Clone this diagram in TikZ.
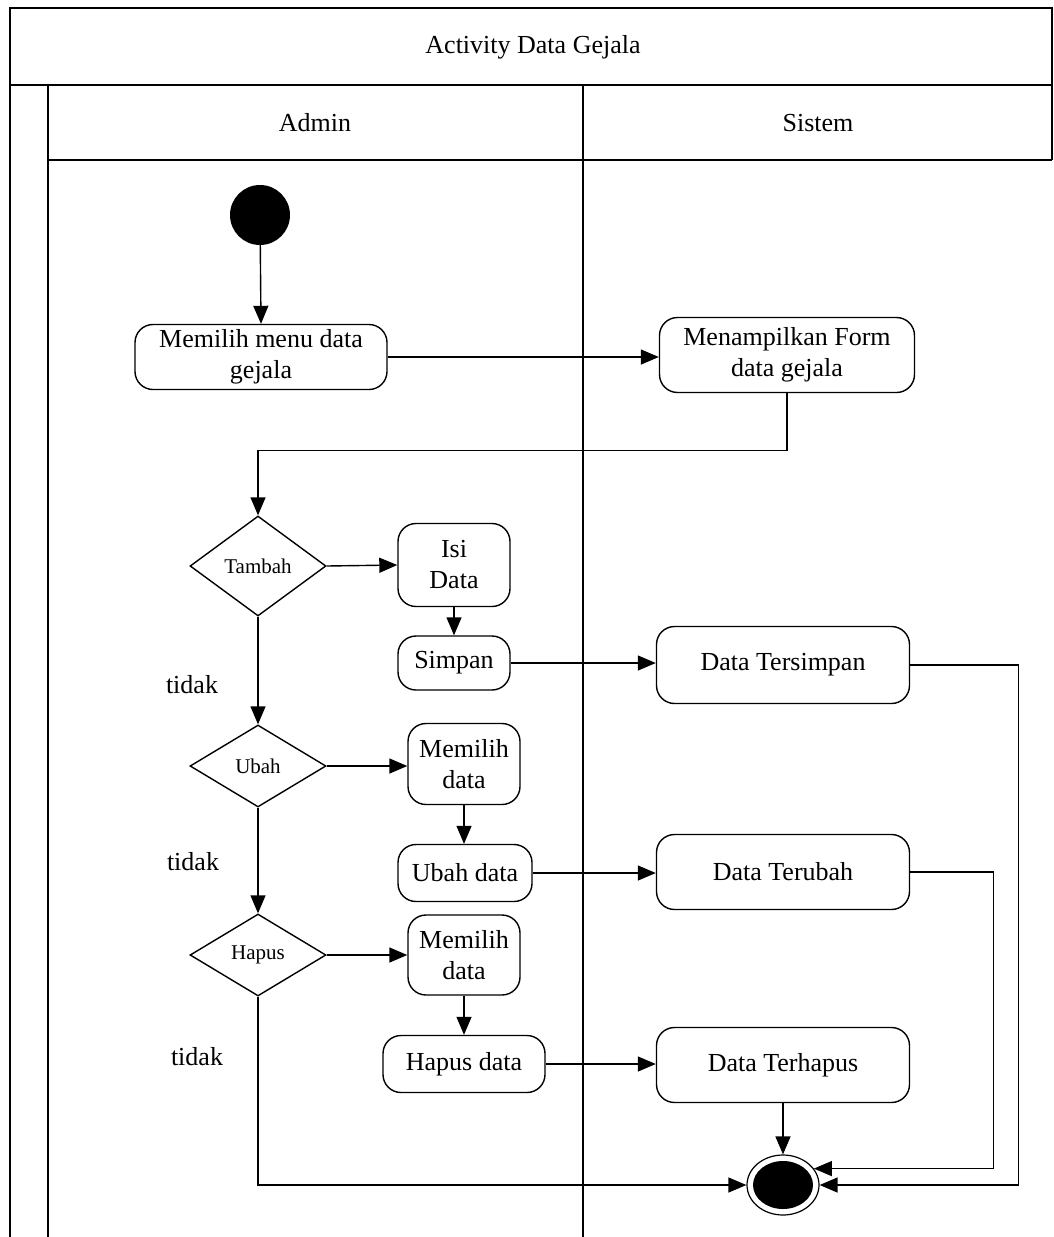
\documentclass[tikz,border=0pt]{standalone}
\usepackage{fontspec}
\setmainfont{Liberation Serif}
\usetikzlibrary{arrows.meta,shapes.geometric}
\tikzset{
  frame/.style={line width=1.6pt},
  act/.style={draw, line width=1.4pt, rounded corners=18pt, align=center, inner sep=0pt, font=\fontsize{26}{31}\selectfont},
  dec/.style={draw, diamond, line width=1.4pt, inner sep=0pt, minimum width=136pt, font=\fontsize{21}{25}\selectfont},
  arr/.style={line width=1.4pt, -{Triangle[length=18pt,width=15pt]}},
  lbl/.style={font=\fontsize{26}{31}\selectfont},
}
\begin{document}
\begin{tikzpicture}[x=1pt,y=-1pt]
\useasboundingbox (0,0) rectangle (1053,1237);
% frame
\draw[frame] (10,1237) -- (10,8) -- (1052,8) -- (1052,160);
\draw[frame] (10,85) -- (1052,85);
\draw[frame] (48,1237) -- (48,85);
\draw[frame] (48,160) -- (1052,160);
\draw[frame] (583,85) -- (583,1237);
\node[lbl] (title) at (533,47) {Activity Data Gejala};
\node[lbl] (admin) at (315,123) {Admin};
\node[lbl] (sistem) at (818,123) {Sistem};
% nodes
\node[circle, fill=black, minimum size=60pt, inner sep=0pt] (start) at (260,215) {};
\node[act, minimum width=252pt, minimum height=65pt] (b1) at (261,357) {Memilih menu data\\gejala};
\node[act, minimum width=255pt, minimum height=75pt] (b2) at (787,355) {Menampilkan Form\\data gejala};
\node[dec, minimum height=100pt] (d1) at (258,566) {Tambah};
\node[act, minimum width=112pt, minimum height=83pt] (isi) at (454,565) {Isi\\Data};
\node[act, minimum width=112pt, minimum height=54pt] (simpan) at (454,663) {Simpan};
\node[act, minimum width=253pt, minimum height=77pt] (t1) at (783,665) {Data Tersimpan};
\node[dec, minimum height=82pt] (d2) at (258,766) {Ubah};
\node[act, minimum width=112pt, minimum height=81pt] (m1) at (464,764) {Memilih\\data};
\node[act, minimum width=134pt, minimum height=57pt] (ud) at (465,873) {Ubah data};
\node[act, minimum width=253pt, minimum height=75pt] (tu) at (783,872) {Data Terubah};
\node[dec, minimum height=82pt] (d3) at (258,955) {Hapus};
\node[act, minimum width=112pt, minimum height=80pt] (m2) at (464,955) {Memilih\\data};
\node[act, minimum width=162pt, minimum height=57pt] (hd) at (464,1064) {Hapus data};
\node[act, minimum width=253pt, minimum height=75pt] (th) at (783,1065) {Data Terhapus};
\node[draw, ellipse, line width=1.2pt, minimum width=72pt, minimum height=60pt, inner sep=0pt] (fin) at (783,1185) {};
\fill (fin.center) ellipse [x radius=30pt, y radius=24pt];
\node[lbl] (t1lbl) at (192,685) {tidak};
\node[lbl] (t2lbl) at (193,862) {tidak};
\node[lbl] (t3lbl) at (197,1057) {tidak};
% connectors
\draw[arr] (start) -- (b1.north);
\draw[arr] (b1.east) -- (b1.east -| b2.west);
\draw[arr] (b2.south) -- ++(0,57) -| (d1.north);
\draw[arr] (d1.east) -- (isi.west);
\draw[arr] (isi.south) -- (simpan.north);
\draw[arr] (simpan.east) -- (simpan.east -| t1.west);
\draw[arr] (t1.east) -- ++(108,0) |- (fin.east);
\draw[arr] (d1.south) -- (d2.north);
\draw[arr] (d2.east) -- (d2.east -| m1.west);
\draw[arr] (m1.south) -- (m1.south |- ud.north);
\draw[arr] (ud.east) -- (ud.east -| tu.west);
\draw[arr] (tu.east) -- ++(83,0) |- (fin.28);
\draw[arr] (d2.south) -- (d3.north);
\draw[arr] (d3.east) -- (d3.east -| m2.west);
\draw[arr] (m2.south) -- (m2.south |- hd.north);
\draw[arr] (hd.east) -- (hd.east -| th.west);
\draw[arr] (th.south) -- (fin.north);
\draw[arr] (d3.south) |- (fin.west);
\end{tikzpicture}
\end{document}
